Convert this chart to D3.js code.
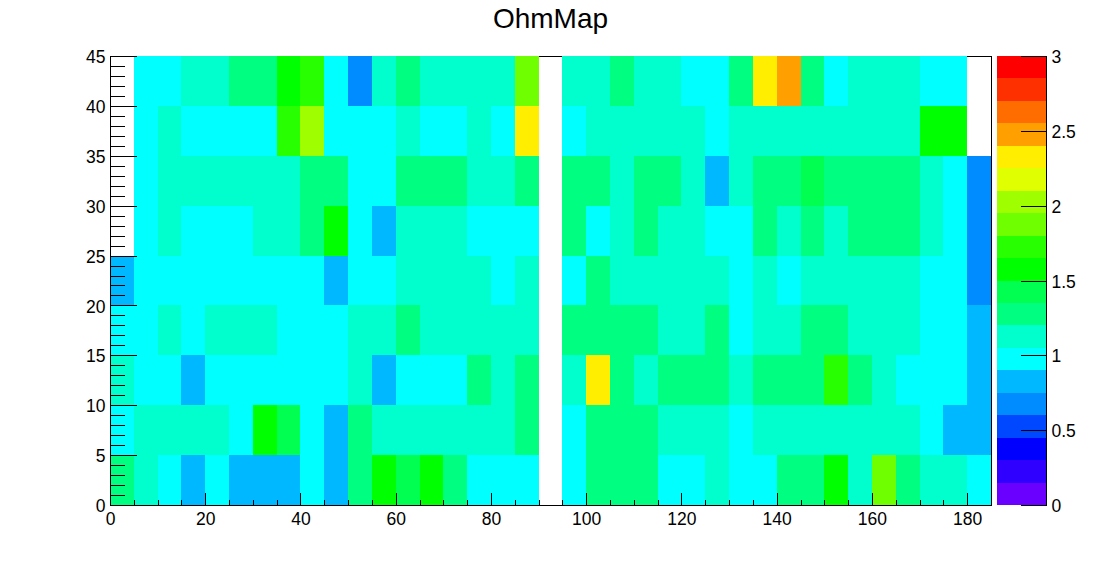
<!DOCTYPE html>
<html>
<head>
<meta charset="utf-8">
<script src="https://cdn.jsdelivr.net/npm/d3@7"></script>
<style>
html,body{margin:0;padding:0;background:#fff;}
svg{display:block;}
text{font-family:"Liberation Sans",Arial,sans-serif;fill:#000;}
</style>
</head>
<body>
<svg id="c" width="1102" height="562"></svg>
<script>
const title = "OhmMap";
const xDomain = [0, 185];
const yDomain = [0, 45];
const zDomain = [0, 3];
const binWidth = 5;
const _ = null;
// rows listed bottom to top, each 37 bins of width 5
const row0 = [1.28,1.13,.98,.83,.98,.83,.83,.83,.98,.83,1.28,1.58,1.43,1.58,1.28,.98,.98,.98,_,.98,1.28,1.28,1.28,.98,.98,1.13,.98,.98,1.28,1.28,1.58,1.13,1.88,1.28,1.13,1.13,.98];
const row1 = [.98,1.13,1.13,1.13,1.13,.98,1.58,1.43,.98,.83,1.28,1.13,1.13,1.13,1.13,1.13,1.13,1.28,_,.98,1.28,1.28,1.28,1.13,1.13,1.13,.98,1.13,1.13,1.13,1.13,1.13,1.13,1.13,.98,.83,.83];
const row2 = [1.13,.98,.98,.83,.98,.98,.98,.98,.98,.98,1.13,.83,.98,.98,.98,1.28,1.13,1.28,_,1.13,2.33,1.28,1.13,1.28,1.28,1.28,1.13,1.28,1.28,1.28,1.73,1.28,1.13,.98,.98,.98,.83];
const row3 = [.98,.98,1.13,.98,1.13,1.13,1.13,.98,.98,.98,1.13,1.13,1.28,1.13,1.13,1.13,1.13,1.13,_,1.28,1.28,1.28,1.28,1.13,1.13,1.28,.98,1.13,1.13,1.28,1.28,1.13,1.13,1.13,.98,.98,.83];
const row4 = [.83,.98,.98,.98,.98,.98,.98,.98,.98,.83,.98,.98,1.13,1.13,1.13,1.13,.98,1.13,_,.98,1.28,1.13,1.13,1.13,1.13,1.13,.98,1.13,.98,1.13,1.13,1.13,1.13,1.13,.98,.98,.68];
const row5 = [_,.98,1.13,.98,.98,.98,1.13,1.13,1.28,1.58,.98,.83,1.13,1.13,1.13,.98,.98,.98,_,1.28,.98,1.13,1.28,1.13,1.13,.98,.98,1.28,1.13,1.28,1.13,1.28,1.28,1.28,1.13,.98,.68];
const row6 = [_,.98,1.13,1.13,1.13,1.13,1.13,1.13,1.28,1.28,.98,.98,1.28,1.28,1.28,1.13,1.13,1.28,_,1.28,1.28,1.13,1.28,1.28,1.13,.83,1.13,1.28,1.28,1.43,1.28,1.28,1.28,1.28,1.13,.98,.68];
const row7 = [_,.98,1.13,.98,.98,.98,.98,1.73,2.03,.98,.98,.98,1.13,.98,.98,1.13,.98,2.33,_,.98,1.13,1.13,1.13,1.13,1.13,.98,1.13,1.13,1.13,1.13,1.13,1.13,1.13,1.13,1.58,1.58,_];
const row8 = [_,.98,.98,1.13,1.13,1.28,1.28,1.58,1.73,.98,.68,1.13,1.28,1.13,1.13,1.13,1.13,1.88,_,1.13,1.13,1.28,1.13,1.13,.98,.98,1.28,2.33,2.48,1.28,.98,1.13,1.13,1.13,.98,.98,_];
const rows = [row0,row1,row2,row3,row4,row5,row6,row7,row8];
const paletteColors = ["#6a00ff","#2f00ff","#0000ff","#0048ff","#008cff","#00b8ff","#00ffff","#00ffcc","#00ff80","#00ff50","#00ff00","#28ff00","#70ff00","#9fff00","#e0ff00","#ffee00","#ffa000","#ff6c00","#ff3000","#ff0000"];
const xMajor = [0,20,40,60,80,100,120,140,160,180];
const xMinor = d3.range(0,186,5);
const yMajor = [0,5,10,15,20,25,30,35,40,45];
const yMinor = d3.range(0,46,1);
const zTicks = [0,0.5,1,1.5,2,2.5,3];

const L=110.5,R=991.5,T=56.5,B=505.5,CL=997,CR=1046.5;
const svg=d3.select("#c");
const x=d3.scaleLinear().domain(xDomain).range([L,R]);
const y=d3.scaleLinear().domain(yDomain).range([B,T]);
const zc=d3.scaleLinear().domain(zDomain).range([B,T]);
const color=d3.scaleQuantize().domain(zDomain).range(paletteColors);

svg.append("rect").attr("x",L).attr("y",T).attr("width",R-L).attr("height",B-T)
  .attr("fill","none").attr("stroke","#000").attr("stroke-width",1).attr("shape-rendering","crispEdges");

const cells=[];
rows.forEach((r,j)=>r.forEach((v,i)=>{ if(v!==null) cells.push({i,j,v}); }));
svg.append("g").attr("shape-rendering","crispEdges").selectAll("rect").data(cells).join("rect")
  .attr("x",d=>Math.round(x(d.i*binWidth)-0.5))
  .attr("width",d=>Math.round(x((d.i+1)*binWidth)-0.5)-Math.round(x(d.i*binWidth)-0.5))
  .attr("y",d=>Math.round(y((d.j+1)*binWidth)-0.5))
  .attr("height",d=>Math.round(y(d.j*binWidth)-0.5)-Math.round(y((d.j+1)*binWidth)-0.5))
  .attr("fill",d=>color(d.v));

const zBands=paletteColors.map((c,k)=>({c,k}));
const dz=(zDomain[1]-zDomain[0])/paletteColors.length;
svg.append("g").attr("shape-rendering","crispEdges").selectAll("rect").data(zBands).join("rect")
  .attr("x",CL).attr("width",CR-0.5-CL)
  .attr("y",d=>Math.round(zc((d.k+1)*dz)-0.5))
  .attr("height",d=>Math.round(zc(d.k*dz)-0.5)-Math.round(zc((d.k+1)*dz)-0.5))
  .attr("fill",d=>d.c);

function style(g){
  g.selectAll("line,path").attr("stroke","#000").attr("stroke-width",1).attr("shape-rendering","crispEdges");
  g.selectAll("text").attr("font-size",17.5).attr("fill","#000").attr("font-family",'"Liberation Sans",Arial,sans-serif');
}
// x axis
const gxm=svg.append("g").attr("transform",`translate(0,${B})`)
  .call(d3.axisBottom(x).offset(0).tickValues(xMinor).tickSize(-6).tickSizeOuter(0).tickFormat(""));
gxm.call(style); gxm.select("path").remove();
const gx=svg.append("g").attr("transform",`translate(0,${B})`)
  .call(d3.axisBottom(x).offset(0).tickValues(xMajor).tickSize(-13).tickSizeOuter(0).tickFormat(d3.format("d")));
gx.call(style);
gx.selectAll("text").attr("y",7).attr("dy","0.71em");
// y axis
const gym=svg.append("g").attr("transform",`translate(${L},0)`)
  .call(d3.axisLeft(y).offset(0).tickValues(yMinor).tickSize(-14).tickSizeOuter(0).tickFormat(""));
gym.call(style); gym.select("path").remove();
const gy=svg.append("g").attr("transform",`translate(${L},0)`)
  .call(d3.axisLeft(y).offset(0).tickValues(yMajor).tickSize(-26).tickSizeOuter(0).tickFormat(d3.format("d")));
gy.call(style);
gy.selectAll("text").attr("x",-5).attr("y",1);
// colour axis
const gz=svg.append("g").attr("transform",`translate(${CR},0)`)
  .call(d3.axisRight(zc).offset(0).tickValues(zTicks).tickSize(-26).tickSizeOuter(0).tickFormat(d3.format("")));
gz.call(style);
gz.selectAll("text").attr("x",5).attr("y",1);

svg.append("text").attr("x",550.5).attr("y",28).attr("text-anchor","middle").attr("font-size",28).text(title);
</script>
</body>
</html>
